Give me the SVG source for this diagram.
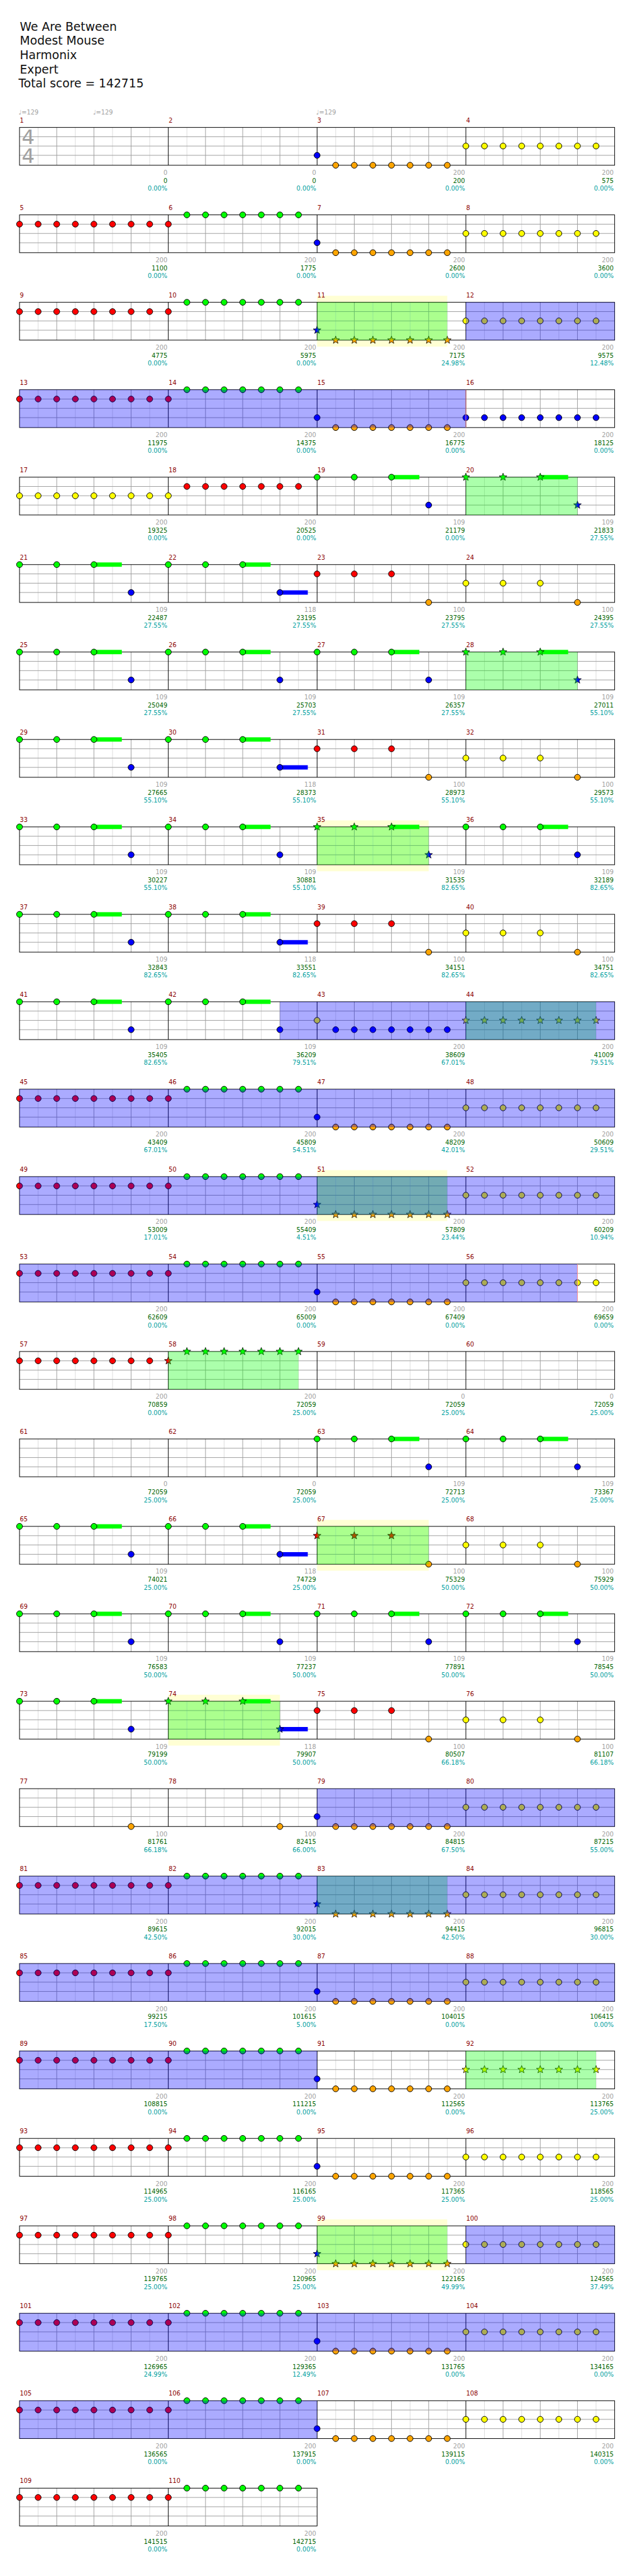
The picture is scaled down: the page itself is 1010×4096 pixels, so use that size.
<svg xmlns="http://www.w3.org/2000/svg" width="1010" height="4096" viewBox="0 0 1010 4096">
<style>
text{font-family:"DejaVu Sans","Liberation Sans",sans-serif}
.title{font-size:19px;fill:#111}
.mn{font-size:10px;fill:#8b0000}
.s1{font-size:10px;fill:#a0a0a0;text-anchor:end}
.s2{font-size:10px;fill:#006400;text-anchor:end}
.s3{font-size:10px;fill:#00a0a0;text-anchor:end}
.tempo{font-size:10px;fill:#a0a0a0}
.ts{font-size:33px;fill:#a0a0a0}
.g{fill:#00ff00}.r{fill:#ff0000}.y{fill:#ffff00}.b{fill:#0000ff}.o{fill:#ffa500}
.ovg{fill:#00ff00;fill-opacity:.33}
.ovb{fill:#0000ff;fill-opacity:.33}
.hl{fill:#ffffd4}
.end{stroke:#ff9090;stroke-width:1}
</style>
<defs>
<circle id="n" r="4.8" stroke="#000" stroke-width="1"/>
<polygon id="s" points="0,-6.5 1.59,-2.18 6.18,-2.01 2.57,0.83 3.82,5.26 0,2.7 -3.82,5.26 -2.57,0.83 -6.18,-2.01 -1.59,-2.18" stroke="#000" stroke-width="0.8"/>
<g id="grid4" fill="none">
<path stroke="#dcdcdc" d="M61.5 0V61M121.5 0V61M181.5 0V61M241.5 0V61M301.5 0V61M361.5 0V61M421.5 0V61M481.5 0V61M541.5 0V61M601.5 0V61M661.5 0V61M721.5 0V61M781.5 0V61M841.5 0V61M901.5 0V61M961.5 0V61"/>
<path stroke="#a0a0a0" d="M91.5 0V61M151.5 0V61M211.5 0V61M331.5 0V61M391.5 0V61M451.5 0V61M571.5 0V61M631.5 0V61M691.5 0V61M811.5 0V61M871.5 0V61M931.5 0V61M31.5 15H991.5M31.5 30H991.5M31.5 45H991.5"/>
<path stroke="#000" d="M271.5 0V61M511.5 0V61M751.5 0V61"/>
<rect x="31.5" y="0" width="960" height="61" stroke="#000"/>
</g>
<g id="grid2" fill="none">
<path stroke="#dcdcdc" d="M61.5 0V61M121.5 0V61M181.5 0V61M241.5 0V61M301.5 0V61M361.5 0V61M421.5 0V61M481.5 0V61"/>
<path stroke="#a0a0a0" d="M91.5 0V61M151.5 0V61M211.5 0V61M331.5 0V61M391.5 0V61M451.5 0V61M31.5 15H511.5M31.5 30H511.5M31.5 45H511.5"/>
<path stroke="#000" d="M271.5 0V61"/>
<rect x="31.5" y="0" width="480" height="61" stroke="#000"/>
</g>
<g id="mRR"><use href="#n" class="r" x="0" y="15"/><use href="#n" class="r" x="30" y="15"/><use href="#n" class="r" x="60" y="15"/><use href="#n" class="r" x="90" y="15"/><use href="#n" class="r" x="120" y="15"/><use href="#n" class="r" x="150" y="15"/><use href="#n" class="r" x="180" y="15"/><use href="#n" class="r" x="210" y="15"/></g>
<g id="mRG"><use href="#n" class="r" x="0" y="15"/><use href="#n" class="g" x="30" y="0"/><use href="#n" class="g" x="60" y="0"/><use href="#n" class="g" x="90" y="0"/><use href="#n" class="g" x="120" y="0"/><use href="#n" class="g" x="150" y="0"/><use href="#n" class="g" x="180" y="0"/><use href="#n" class="g" x="210" y="0"/></g>
<g id="mBO"><use href="#n" class="b" x="0" y="45"/><use href="#n" class="o" x="30" y="61"/><use href="#n" class="o" x="60" y="61"/><use href="#n" class="o" x="90" y="61"/><use href="#n" class="o" x="120" y="61"/><use href="#n" class="o" x="150" y="61"/><use href="#n" class="o" x="180" y="61"/><use href="#n" class="o" x="210" y="61"/></g>
<g id="mYY"><use href="#n" class="y" x="0" y="30"/><use href="#n" class="y" x="30" y="30"/><use href="#n" class="y" x="60" y="30"/><use href="#n" class="y" x="90" y="30"/><use href="#n" class="y" x="120" y="30"/><use href="#n" class="y" x="150" y="30"/><use href="#n" class="y" x="180" y="30"/><use href="#n" class="y" x="210" y="30"/></g>
<g id="mBB"><use href="#n" class="b" x="0" y="45"/><use href="#n" class="b" x="30" y="45"/><use href="#n" class="b" x="60" y="45"/><use href="#n" class="b" x="90" y="45"/><use href="#n" class="b" x="120" y="45"/><use href="#n" class="b" x="150" y="45"/><use href="#n" class="b" x="180" y="45"/><use href="#n" class="b" x="210" y="45"/></g>
<g id="mYR"><use href="#n" class="y" x="0" y="30"/><use href="#n" class="r" x="30" y="15"/><use href="#n" class="r" x="60" y="15"/><use href="#n" class="r" x="90" y="15"/><use href="#n" class="r" x="120" y="15"/><use href="#n" class="r" x="150" y="15"/><use href="#n" class="r" x="180" y="15"/><use href="#n" class="r" x="210" y="15"/></g>
<g id="mYB"><use href="#n" class="y" x="0" y="30"/><use href="#n" class="b" x="30" y="45"/><use href="#n" class="b" x="60" y="45"/><use href="#n" class="b" x="90" y="45"/><use href="#n" class="b" x="120" y="45"/><use href="#n" class="b" x="150" y="45"/><use href="#n" class="b" x="180" y="45"/><use href="#n" class="b" x="210" y="45"/></g>
<g id="mGP"><rect class="g" x="120" y="-3.5" width="45" height="7"/><use href="#n" class="g" x="0" y="0"/><use href="#n" class="g" x="60" y="0"/><use href="#n" class="g" x="120" y="0"/><use href="#n" class="b" x="180" y="45"/></g>
<g id="mGPb"><rect class="g" x="120" y="-3.5" width="45" height="7"/><rect class="b" x="180" y="41.5" width="45" height="7"/><use href="#n" class="g" x="0" y="0"/><use href="#n" class="g" x="60" y="0"/><use href="#n" class="g" x="120" y="0"/><use href="#n" class="b" x="180" y="45"/></g>
<g id="mR3"><use href="#n" class="r" x="0" y="15"/><use href="#n" class="r" x="60" y="15"/><use href="#n" class="r" x="120" y="15"/><use href="#n" class="o" x="180" y="61"/></g>
<g id="mY3"><use href="#n" class="y" x="0" y="30"/><use href="#n" class="y" x="60" y="30"/><use href="#n" class="y" x="120" y="30"/><use href="#n" class="o" x="180" y="61"/></g>
<g id="sBO"><use href="#s" class="b" x="0" y="45"/><use href="#s" class="o" x="30" y="61"/><use href="#s" class="o" x="60" y="61"/><use href="#s" class="o" x="90" y="61"/><use href="#s" class="o" x="120" y="61"/><use href="#s" class="o" x="150" y="61"/><use href="#s" class="o" x="180" y="61"/><use href="#s" class="o" x="210" y="61"/></g>
<g id="sGP"><rect class="g" x="120" y="-3.5" width="45" height="7"/><use href="#s" class="g" x="0" y="0"/><use href="#s" class="g" x="60" y="0"/><use href="#s" class="g" x="120" y="0"/><use href="#s" class="b" x="180" y="45"/></g>
<g id="sGPb"><rect class="g" x="120" y="-3.5" width="45" height="7"/><rect class="b" x="180" y="41.5" width="45" height="7"/><use href="#s" class="g" x="0" y="0"/><use href="#s" class="g" x="60" y="0"/><use href="#s" class="g" x="120" y="0"/><use href="#s" class="b" x="180" y="45"/></g>
<g id="sYY"><use href="#s" class="y" x="0" y="30"/><use href="#s" class="y" x="30" y="30"/><use href="#s" class="y" x="60" y="30"/><use href="#s" class="y" x="90" y="30"/><use href="#s" class="y" x="120" y="30"/><use href="#s" class="y" x="150" y="30"/><use href="#s" class="y" x="180" y="30"/><use href="#s" class="y" x="210" y="30"/></g>
<g id="sRG"><use href="#s" class="r" x="0" y="15"/><use href="#s" class="g" x="30" y="0"/><use href="#s" class="g" x="60" y="0"/><use href="#s" class="g" x="90" y="0"/><use href="#s" class="g" x="120" y="0"/><use href="#s" class="g" x="150" y="0"/><use href="#s" class="g" x="180" y="0"/><use href="#s" class="g" x="210" y="0"/></g>
<g id="sR3"><use href="#s" class="r" x="0" y="15"/><use href="#s" class="r" x="60" y="15"/><use href="#s" class="r" x="120" y="15"/><use href="#n" class="o" x="180" y="61"/></g>
</defs>
<g transform="scale(0.986)">
<g id="header">
<text class="title" x="32" y="49.3">We Are Between</text>
<text class="title" x="32" y="72.3">Modest Mouse</text>
<text class="title" x="32" y="95.3">Harmonix</text>
<text class="title" x="32" y="118.3">Expert</text>
<text class="title" x="30" y="141.3">Total score = 142715</text>
</g>
<g id="row1" transform="translate(0,205.5)">
<use href="#grid4"/>
<text class="ts"><tspan x="35" y="27">4</tspan><tspan x="35" y="57">4</tspan></text>
<text class="tempo" x="30" y="-20.5">♩=129</text><text class="tempo" x="150" y="-20.5">♩=129</text><text class="tempo" x="510" y="-20.5">♩=129</text>
<use href="#mBO" x="511.5"/><use href="#mYY" x="751.5"/>
<text class="mn" x="32" y="-8">1</text><text class="mn" x="272" y="-8">2</text><text class="mn" x="512" y="-8">3</text><text class="mn" x="752" y="-8">4</text>
<text class="s1" x="270" y="76.5">0</text><text class="s2" x="270" y="89.5">0</text><text class="s3" x="270" y="102">0.00%</text>
<text class="s1" x="510" y="76.5">0</text><text class="s2" x="510" y="89.5">0</text><text class="s3" x="510" y="102">0.00%</text>
<text class="s1" x="750" y="76.5">200</text><text class="s2" x="750" y="89.5">200</text><text class="s3" x="750" y="102">0.00%</text>
<text class="s1" x="990" y="76.5">200</text><text class="s2" x="990" y="89.5">575</text><text class="s3" x="990" y="102">0.00%</text>
</g>
<g id="row2" transform="translate(0,346.5)">
<use href="#grid4"/>
<use href="#mRR" x="31.5"/><use href="#mRG" x="271.5"/><use href="#mBO" x="511.5"/><use href="#mYY" x="751.5"/>
<text class="mn" x="32" y="-8">5</text><text class="mn" x="272" y="-8">6</text><text class="mn" x="512" y="-8">7</text><text class="mn" x="752" y="-8">8</text>
<text class="s1" x="270" y="76.5">200</text><text class="s2" x="270" y="89.5">1100</text><text class="s3" x="270" y="102">0.00%</text>
<text class="s1" x="510" y="76.5">200</text><text class="s2" x="510" y="89.5">1775</text><text class="s3" x="510" y="102">0.00%</text>
<text class="s1" x="750" y="76.5">200</text><text class="s2" x="750" y="89.5">2600</text><text class="s3" x="750" y="102">0.00%</text>
<text class="s1" x="990" y="76.5">200</text><text class="s2" x="990" y="89.5">3600</text><text class="s3" x="990" y="102">0.00%</text>
</g>
<g id="row3" transform="translate(0,487.5)">
<rect class="hl" x="511.5" y="-10.5" width="210" height="82"/>
<use href="#grid4"/>
<use href="#mRR" x="31.5"/><use href="#mRG" x="271.5"/><use href="#sBO" x="511.5"/><use href="#mYY" x="751.5"/>
<rect class="ovg" x="511.5" y="0" width="210" height="61"/>
<rect class="ovb" x="751.5" y="0" width="240" height="61"/>
<text class="mn" x="32" y="-8">9</text><text class="mn" x="272" y="-8">10</text><text class="mn" x="512" y="-8">11</text><text class="mn" x="752" y="-8">12</text>
<text class="s1" x="270" y="76.5">200</text><text class="s2" x="270" y="89.5">4775</text><text class="s3" x="270" y="102">0.00%</text>
<text class="s1" x="510" y="76.5">200</text><text class="s2" x="510" y="89.5">5975</text><text class="s3" x="510" y="102">0.00%</text>
<text class="s1" x="750" y="76.5">200</text><text class="s2" x="750" y="89.5">7175</text><text class="s3" x="750" y="102">24.98%</text>
<text class="s1" x="990" y="76.5">200</text><text class="s2" x="990" y="89.5">9575</text><text class="s3" x="990" y="102">12.48%</text>
</g>
<g id="row4" transform="translate(0,628.5)">
<use href="#grid4"/>
<use href="#mRR" x="31.5"/><use href="#mRG" x="271.5"/><use href="#mBO" x="511.5"/><use href="#mBB" x="751.5"/>
<rect class="ovb" x="31.5" y="0" width="720" height="61"/>
<line class="end" x1="751.5" y1="0" x2="751.5" y2="61"/>
<text class="mn" x="32" y="-8">13</text><text class="mn" x="272" y="-8">14</text><text class="mn" x="512" y="-8">15</text><text class="mn" x="752" y="-8">16</text>
<text class="s1" x="270" y="76.5">200</text><text class="s2" x="270" y="89.5">11975</text><text class="s3" x="270" y="102">0.00%</text>
<text class="s1" x="510" y="76.5">200</text><text class="s2" x="510" y="89.5">14375</text><text class="s3" x="510" y="102">0.00%</text>
<text class="s1" x="750" y="76.5">200</text><text class="s2" x="750" y="89.5">16775</text><text class="s3" x="750" y="102">0.00%</text>
<text class="s1" x="990" y="76.5">200</text><text class="s2" x="990" y="89.5">18125</text><text class="s3" x="990" y="102">0.00%</text>
</g>
<g id="row5" transform="translate(0,769.5)">
<use href="#grid4"/>
<use href="#mYY" x="31.5"/><use href="#mYR" x="271.5"/><use href="#mGP" x="511.5"/><use href="#sGP" x="751.5"/>
<rect class="ovg" x="751.5" y="0" width="180" height="61"/>
<text class="mn" x="32" y="-8">17</text><text class="mn" x="272" y="-8">18</text><text class="mn" x="512" y="-8">19</text><text class="mn" x="752" y="-8">20</text>
<text class="s1" x="270" y="76.5">200</text><text class="s2" x="270" y="89.5">19325</text><text class="s3" x="270" y="102">0.00%</text>
<text class="s1" x="510" y="76.5">200</text><text class="s2" x="510" y="89.5">20525</text><text class="s3" x="510" y="102">0.00%</text>
<text class="s1" x="750" y="76.5">109</text><text class="s2" x="750" y="89.5">21179</text><text class="s3" x="750" y="102">0.00%</text>
<text class="s1" x="990" y="76.5">109</text><text class="s2" x="990" y="89.5">21833</text><text class="s3" x="990" y="102">27.55%</text>
</g>
<g id="row6" transform="translate(0,910.5)">
<use href="#grid4"/>
<use href="#mGP" x="31.5"/><use href="#mGPb" x="271.5"/><use href="#mR3" x="511.5"/><use href="#mY3" x="751.5"/>
<text class="mn" x="32" y="-8">21</text><text class="mn" x="272" y="-8">22</text><text class="mn" x="512" y="-8">23</text><text class="mn" x="752" y="-8">24</text>
<text class="s1" x="270" y="76.5">109</text><text class="s2" x="270" y="89.5">22487</text><text class="s3" x="270" y="102">27.55%</text>
<text class="s1" x="510" y="76.5">118</text><text class="s2" x="510" y="89.5">23195</text><text class="s3" x="510" y="102">27.55%</text>
<text class="s1" x="750" y="76.5">100</text><text class="s2" x="750" y="89.5">23795</text><text class="s3" x="750" y="102">27.55%</text>
<text class="s1" x="990" y="76.5">100</text><text class="s2" x="990" y="89.5">24395</text><text class="s3" x="990" y="102">27.55%</text>
</g>
<g id="row7" transform="translate(0,1051.5)">
<use href="#grid4"/>
<use href="#mGP" x="31.5"/><use href="#mGP" x="271.5"/><use href="#mGP" x="511.5"/><use href="#sGP" x="751.5"/>
<rect class="ovg" x="751.5" y="0" width="180" height="61"/>
<text class="mn" x="32" y="-8">25</text><text class="mn" x="272" y="-8">26</text><text class="mn" x="512" y="-8">27</text><text class="mn" x="752" y="-8">28</text>
<text class="s1" x="270" y="76.5">109</text><text class="s2" x="270" y="89.5">25049</text><text class="s3" x="270" y="102">27.55%</text>
<text class="s1" x="510" y="76.5">109</text><text class="s2" x="510" y="89.5">25703</text><text class="s3" x="510" y="102">27.55%</text>
<text class="s1" x="750" y="76.5">109</text><text class="s2" x="750" y="89.5">26357</text><text class="s3" x="750" y="102">27.55%</text>
<text class="s1" x="990" y="76.5">109</text><text class="s2" x="990" y="89.5">27011</text><text class="s3" x="990" y="102">55.10%</text>
</g>
<g id="row8" transform="translate(0,1192.5)">
<use href="#grid4"/>
<use href="#mGP" x="31.5"/><use href="#mGPb" x="271.5"/><use href="#mR3" x="511.5"/><use href="#mY3" x="751.5"/>
<text class="mn" x="32" y="-8">29</text><text class="mn" x="272" y="-8">30</text><text class="mn" x="512" y="-8">31</text><text class="mn" x="752" y="-8">32</text>
<text class="s1" x="270" y="76.5">109</text><text class="s2" x="270" y="89.5">27665</text><text class="s3" x="270" y="102">55.10%</text>
<text class="s1" x="510" y="76.5">118</text><text class="s2" x="510" y="89.5">28373</text><text class="s3" x="510" y="102">55.10%</text>
<text class="s1" x="750" y="76.5">100</text><text class="s2" x="750" y="89.5">28973</text><text class="s3" x="750" y="102">55.10%</text>
<text class="s1" x="990" y="76.5">100</text><text class="s2" x="990" y="89.5">29573</text><text class="s3" x="990" y="102">55.10%</text>
</g>
<g id="row9" transform="translate(0,1333.5)">
<rect class="hl" x="511.5" y="-10.5" width="180" height="82"/>
<use href="#grid4"/>
<use href="#mGP" x="31.5"/><use href="#mGP" x="271.5"/><use href="#sGP" x="511.5"/><use href="#mGP" x="751.5"/>
<rect class="ovg" x="511.5" y="0" width="180" height="61"/>
<text class="mn" x="32" y="-8">33</text><text class="mn" x="272" y="-8">34</text><text class="mn" x="512" y="-8">35</text><text class="mn" x="752" y="-8">36</text>
<text class="s1" x="270" y="76.5">109</text><text class="s2" x="270" y="89.5">30227</text><text class="s3" x="270" y="102">55.10%</text>
<text class="s1" x="510" y="76.5">109</text><text class="s2" x="510" y="89.5">30881</text><text class="s3" x="510" y="102">55.10%</text>
<text class="s1" x="750" y="76.5">109</text><text class="s2" x="750" y="89.5">31535</text><text class="s3" x="750" y="102">82.65%</text>
<text class="s1" x="990" y="76.5">109</text><text class="s2" x="990" y="89.5">32189</text><text class="s3" x="990" y="102">82.65%</text>
</g>
<g id="row10" transform="translate(0,1474.5)">
<use href="#grid4"/>
<use href="#mGP" x="31.5"/><use href="#mGPb" x="271.5"/><use href="#mR3" x="511.5"/><use href="#mY3" x="751.5"/>
<text class="mn" x="32" y="-8">37</text><text class="mn" x="272" y="-8">38</text><text class="mn" x="512" y="-8">39</text><text class="mn" x="752" y="-8">40</text>
<text class="s1" x="270" y="76.5">109</text><text class="s2" x="270" y="89.5">32843</text><text class="s3" x="270" y="102">82.65%</text>
<text class="s1" x="510" y="76.5">118</text><text class="s2" x="510" y="89.5">33551</text><text class="s3" x="510" y="102">82.65%</text>
<text class="s1" x="750" y="76.5">100</text><text class="s2" x="750" y="89.5">34151</text><text class="s3" x="750" y="102">82.65%</text>
<text class="s1" x="990" y="76.5">100</text><text class="s2" x="990" y="89.5">34751</text><text class="s3" x="990" y="102">82.65%</text>
</g>
<g id="row11" transform="translate(0,1615.5)">
<use href="#grid4"/>
<use href="#mGP" x="31.5"/><use href="#mGP" x="271.5"/><use href="#mYB" x="511.5"/><use href="#sYY" x="751.5"/>
<rect class="ovg" x="751.5" y="0" width="210" height="61"/>
<rect class="ovb" x="451.5" y="0" width="540" height="61"/>
<text class="mn" x="32" y="-8">41</text><text class="mn" x="272" y="-8">42</text><text class="mn" x="512" y="-8">43</text><text class="mn" x="752" y="-8">44</text>
<text class="s1" x="270" y="76.5">109</text><text class="s2" x="270" y="89.5">35405</text><text class="s3" x="270" y="102">82.65%</text>
<text class="s1" x="510" y="76.5">109</text><text class="s2" x="510" y="89.5">36209</text><text class="s3" x="510" y="102">79.51%</text>
<text class="s1" x="750" y="76.5">200</text><text class="s2" x="750" y="89.5">38609</text><text class="s3" x="750" y="102">67.01%</text>
<text class="s1" x="990" y="76.5">200</text><text class="s2" x="990" y="89.5">41009</text><text class="s3" x="990" y="102">79.51%</text>
</g>
<g id="row12" transform="translate(0,1756.5)">
<use href="#grid4"/>
<use href="#mRR" x="31.5"/><use href="#mRG" x="271.5"/><use href="#mBO" x="511.5"/><use href="#mYY" x="751.5"/>
<rect class="ovb" x="31.5" y="0" width="960" height="61"/>
<text class="mn" x="32" y="-8">45</text><text class="mn" x="272" y="-8">46</text><text class="mn" x="512" y="-8">47</text><text class="mn" x="752" y="-8">48</text>
<text class="s1" x="270" y="76.5">200</text><text class="s2" x="270" y="89.5">43409</text><text class="s3" x="270" y="102">67.01%</text>
<text class="s1" x="510" y="76.5">200</text><text class="s2" x="510" y="89.5">45809</text><text class="s3" x="510" y="102">54.51%</text>
<text class="s1" x="750" y="76.5">200</text><text class="s2" x="750" y="89.5">48209</text><text class="s3" x="750" y="102">42.01%</text>
<text class="s1" x="990" y="76.5">200</text><text class="s2" x="990" y="89.5">50609</text><text class="s3" x="990" y="102">29.51%</text>
</g>
<g id="row13" transform="translate(0,1897.5)">
<rect class="hl" x="511.5" y="-10.5" width="210" height="82"/>
<use href="#grid4"/>
<use href="#mRR" x="31.5"/><use href="#mRG" x="271.5"/><use href="#sBO" x="511.5"/><use href="#mYY" x="751.5"/>
<rect class="ovg" x="511.5" y="0" width="210" height="61"/>
<rect class="ovb" x="31.5" y="0" width="960" height="61"/>
<text class="mn" x="32" y="-8">49</text><text class="mn" x="272" y="-8">50</text><text class="mn" x="512" y="-8">51</text><text class="mn" x="752" y="-8">52</text>
<text class="s1" x="270" y="76.5">200</text><text class="s2" x="270" y="89.5">53009</text><text class="s3" x="270" y="102">17.01%</text>
<text class="s1" x="510" y="76.5">200</text><text class="s2" x="510" y="89.5">55409</text><text class="s3" x="510" y="102">4.51%</text>
<text class="s1" x="750" y="76.5">200</text><text class="s2" x="750" y="89.5">57809</text><text class="s3" x="750" y="102">23.44%</text>
<text class="s1" x="990" y="76.5">200</text><text class="s2" x="990" y="89.5">60209</text><text class="s3" x="990" y="102">10.94%</text>
</g>
<g id="row14" transform="translate(0,2038.5)">
<use href="#grid4"/>
<use href="#mRR" x="31.5"/><use href="#mRG" x="271.5"/><use href="#mBO" x="511.5"/><use href="#mYY" x="751.5"/>
<rect class="ovb" x="31.5" y="0" width="900" height="61"/>
<line class="end" x1="931.5" y1="0" x2="931.5" y2="61"/>
<text class="mn" x="32" y="-8">53</text><text class="mn" x="272" y="-8">54</text><text class="mn" x="512" y="-8">55</text><text class="mn" x="752" y="-8">56</text>
<text class="s1" x="270" y="76.5">200</text><text class="s2" x="270" y="89.5">62609</text><text class="s3" x="270" y="102">0.00%</text>
<text class="s1" x="510" y="76.5">200</text><text class="s2" x="510" y="89.5">65009</text><text class="s3" x="510" y="102">0.00%</text>
<text class="s1" x="750" y="76.5">200</text><text class="s2" x="750" y="89.5">67409</text><text class="s3" x="750" y="102">0.00%</text>
<text class="s1" x="990" y="76.5">200</text><text class="s2" x="990" y="89.5">69659</text><text class="s3" x="990" y="102">0.00%</text>
</g>
<g id="row15" transform="translate(0,2179.5)">
<use href="#grid4"/>
<use href="#mRR" x="31.5"/><use href="#sRG" x="271.5"/>
<rect class="ovg" x="271.5" y="0" width="210" height="61"/>
<text class="mn" x="32" y="-8">57</text><text class="mn" x="272" y="-8">58</text><text class="mn" x="512" y="-8">59</text><text class="mn" x="752" y="-8">60</text>
<text class="s1" x="270" y="76.5">200</text><text class="s2" x="270" y="89.5">70859</text><text class="s3" x="270" y="102">0.00%</text>
<text class="s1" x="510" y="76.5">200</text><text class="s2" x="510" y="89.5">72059</text><text class="s3" x="510" y="102">25.00%</text>
<text class="s1" x="750" y="76.5">0</text><text class="s2" x="750" y="89.5">72059</text><text class="s3" x="750" y="102">25.00%</text>
<text class="s1" x="990" y="76.5">0</text><text class="s2" x="990" y="89.5">72059</text><text class="s3" x="990" y="102">25.00%</text>
</g>
<g id="row16" transform="translate(0,2320.5)">
<use href="#grid4"/>
<use href="#mGP" x="511.5"/><use href="#mGP" x="751.5"/>
<text class="mn" x="32" y="-8">61</text><text class="mn" x="272" y="-8">62</text><text class="mn" x="512" y="-8">63</text><text class="mn" x="752" y="-8">64</text>
<text class="s1" x="270" y="76.5">0</text><text class="s2" x="270" y="89.5">72059</text><text class="s3" x="270" y="102">25.00%</text>
<text class="s1" x="510" y="76.5">0</text><text class="s2" x="510" y="89.5">72059</text><text class="s3" x="510" y="102">25.00%</text>
<text class="s1" x="750" y="76.5">109</text><text class="s2" x="750" y="89.5">72713</text><text class="s3" x="750" y="102">25.00%</text>
<text class="s1" x="990" y="76.5">109</text><text class="s2" x="990" y="89.5">73367</text><text class="s3" x="990" y="102">25.00%</text>
</g>
<g id="row17" transform="translate(0,2461.5)">
<rect class="hl" x="511.5" y="-10.5" width="180" height="82"/>
<use href="#grid4"/>
<use href="#mGP" x="31.5"/><use href="#mGPb" x="271.5"/><use href="#sR3" x="511.5"/><use href="#mY3" x="751.5"/>
<rect class="ovg" x="511.5" y="0" width="180" height="61"/>
<text class="mn" x="32" y="-8">65</text><text class="mn" x="272" y="-8">66</text><text class="mn" x="512" y="-8">67</text><text class="mn" x="752" y="-8">68</text>
<text class="s1" x="270" y="76.5">109</text><text class="s2" x="270" y="89.5">74021</text><text class="s3" x="270" y="102">25.00%</text>
<text class="s1" x="510" y="76.5">118</text><text class="s2" x="510" y="89.5">74729</text><text class="s3" x="510" y="102">25.00%</text>
<text class="s1" x="750" y="76.5">100</text><text class="s2" x="750" y="89.5">75329</text><text class="s3" x="750" y="102">50.00%</text>
<text class="s1" x="990" y="76.5">100</text><text class="s2" x="990" y="89.5">75929</text><text class="s3" x="990" y="102">50.00%</text>
</g>
<g id="row18" transform="translate(0,2602.5)">
<use href="#grid4"/>
<use href="#mGP" x="31.5"/><use href="#mGP" x="271.5"/><use href="#mGP" x="511.5"/><use href="#mGP" x="751.5"/>
<text class="mn" x="32" y="-8">69</text><text class="mn" x="272" y="-8">70</text><text class="mn" x="512" y="-8">71</text><text class="mn" x="752" y="-8">72</text>
<text class="s1" x="270" y="76.5">109</text><text class="s2" x="270" y="89.5">76583</text><text class="s3" x="270" y="102">50.00%</text>
<text class="s1" x="510" y="76.5">109</text><text class="s2" x="510" y="89.5">77237</text><text class="s3" x="510" y="102">50.00%</text>
<text class="s1" x="750" y="76.5">109</text><text class="s2" x="750" y="89.5">77891</text><text class="s3" x="750" y="102">50.00%</text>
<text class="s1" x="990" y="76.5">109</text><text class="s2" x="990" y="89.5">78545</text><text class="s3" x="990" y="102">50.00%</text>
</g>
<g id="row19" transform="translate(0,2743.5)">
<rect class="hl" x="271.5" y="-10.5" width="180" height="82"/>
<use href="#grid4"/>
<use href="#mGP" x="31.5"/><use href="#sGPb" x="271.5"/><use href="#mR3" x="511.5"/><use href="#mY3" x="751.5"/>
<rect class="ovg" x="271.5" y="0" width="180" height="61"/>
<text class="mn" x="32" y="-8">73</text><text class="mn" x="272" y="-8">74</text><text class="mn" x="512" y="-8">75</text><text class="mn" x="752" y="-8">76</text>
<text class="s1" x="270" y="76.5">109</text><text class="s2" x="270" y="89.5">79199</text><text class="s3" x="270" y="102">50.00%</text>
<text class="s1" x="510" y="76.5">118</text><text class="s2" x="510" y="89.5">79907</text><text class="s3" x="510" y="102">50.00%</text>
<text class="s1" x="750" y="76.5">100</text><text class="s2" x="750" y="89.5">80507</text><text class="s3" x="750" y="102">66.18%</text>
<text class="s1" x="990" y="76.5">100</text><text class="s2" x="990" y="89.5">81107</text><text class="s3" x="990" y="102">66.18%</text>
</g>
<g id="row20" transform="translate(0,2884.5)">
<use href="#grid4"/>
<use href="#n" class="o" x="211.5" y="61"/><use href="#n" class="o" x="451.5" y="61"/>
<use href="#mBO" x="511.5"/><use href="#mYY" x="751.5"/>
<rect class="ovb" x="511.5" y="0" width="480" height="61"/>
<text class="mn" x="32" y="-8">77</text><text class="mn" x="272" y="-8">78</text><text class="mn" x="512" y="-8">79</text><text class="mn" x="752" y="-8">80</text>
<text class="s1" x="270" y="76.5">100</text><text class="s2" x="270" y="89.5">81761</text><text class="s3" x="270" y="102">66.18%</text>
<text class="s1" x="510" y="76.5">100</text><text class="s2" x="510" y="89.5">82415</text><text class="s3" x="510" y="102">66.00%</text>
<text class="s1" x="750" y="76.5">200</text><text class="s2" x="750" y="89.5">84815</text><text class="s3" x="750" y="102">67.50%</text>
<text class="s1" x="990" y="76.5">200</text><text class="s2" x="990" y="89.5">87215</text><text class="s3" x="990" y="102">55.00%</text>
</g>
<g id="row21" transform="translate(0,3025.5)">
<use href="#grid4"/>
<use href="#mRR" x="31.5"/><use href="#mRG" x="271.5"/><use href="#sBO" x="511.5"/><use href="#mYY" x="751.5"/>
<rect class="ovg" x="511.5" y="0" width="210" height="61"/>
<rect class="ovb" x="31.5" y="0" width="960" height="61"/>
<text class="mn" x="32" y="-8">81</text><text class="mn" x="272" y="-8">82</text><text class="mn" x="512" y="-8">83</text><text class="mn" x="752" y="-8">84</text>
<text class="s1" x="270" y="76.5">200</text><text class="s2" x="270" y="89.5">89615</text><text class="s3" x="270" y="102">42.50%</text>
<text class="s1" x="510" y="76.5">200</text><text class="s2" x="510" y="89.5">92015</text><text class="s3" x="510" y="102">30.00%</text>
<text class="s1" x="750" y="76.5">200</text><text class="s2" x="750" y="89.5">94415</text><text class="s3" x="750" y="102">42.50%</text>
<text class="s1" x="990" y="76.5">200</text><text class="s2" x="990" y="89.5">96815</text><text class="s3" x="990" y="102">30.00%</text>
</g>
<g id="row22" transform="translate(0,3166.5)">
<use href="#grid4"/>
<use href="#mRR" x="31.5"/><use href="#mRG" x="271.5"/><use href="#mBO" x="511.5"/><use href="#mYY" x="751.5"/>
<rect class="ovb" x="31.5" y="0" width="960" height="61"/>
<text class="mn" x="32" y="-8">85</text><text class="mn" x="272" y="-8">86</text><text class="mn" x="512" y="-8">87</text><text class="mn" x="752" y="-8">88</text>
<text class="s1" x="270" y="76.5">200</text><text class="s2" x="270" y="89.5">99215</text><text class="s3" x="270" y="102">17.50%</text>
<text class="s1" x="510" y="76.5">200</text><text class="s2" x="510" y="89.5">101615</text><text class="s3" x="510" y="102">5.00%</text>
<text class="s1" x="750" y="76.5">200</text><text class="s2" x="750" y="89.5">104015</text><text class="s3" x="750" y="102">0.00%</text>
<text class="s1" x="990" y="76.5">200</text><text class="s2" x="990" y="89.5">106415</text><text class="s3" x="990" y="102">0.00%</text>
</g>
<g id="row23" transform="translate(0,3307.5)">
<use href="#grid4"/>
<use href="#mRR" x="31.5"/><use href="#mRG" x="271.5"/><use href="#mBO" x="511.5"/><use href="#sYY" x="751.5"/>
<rect class="ovg" x="751.5" y="0" width="210" height="61"/>
<rect class="ovb" x="31.5" y="0" width="480" height="61"/>
<text class="mn" x="32" y="-8">89</text><text class="mn" x="272" y="-8">90</text><text class="mn" x="512" y="-8">91</text><text class="mn" x="752" y="-8">92</text>
<text class="s1" x="270" y="76.5">200</text><text class="s2" x="270" y="89.5">108815</text><text class="s3" x="270" y="102">0.00%</text>
<text class="s1" x="510" y="76.5">200</text><text class="s2" x="510" y="89.5">111215</text><text class="s3" x="510" y="102">0.00%</text>
<text class="s1" x="750" y="76.5">200</text><text class="s2" x="750" y="89.5">112565</text><text class="s3" x="750" y="102">0.00%</text>
<text class="s1" x="990" y="76.5">200</text><text class="s2" x="990" y="89.5">113765</text><text class="s3" x="990" y="102">25.00%</text>
</g>
<g id="row24" transform="translate(0,3448.5)">
<use href="#grid4"/>
<use href="#mRR" x="31.5"/><use href="#mRG" x="271.5"/><use href="#mBO" x="511.5"/><use href="#mYY" x="751.5"/>
<text class="mn" x="32" y="-8">93</text><text class="mn" x="272" y="-8">94</text><text class="mn" x="512" y="-8">95</text><text class="mn" x="752" y="-8">96</text>
<text class="s1" x="270" y="76.5">200</text><text class="s2" x="270" y="89.5">114965</text><text class="s3" x="270" y="102">25.00%</text>
<text class="s1" x="510" y="76.5">200</text><text class="s2" x="510" y="89.5">116165</text><text class="s3" x="510" y="102">25.00%</text>
<text class="s1" x="750" y="76.5">200</text><text class="s2" x="750" y="89.5">117365</text><text class="s3" x="750" y="102">25.00%</text>
<text class="s1" x="990" y="76.5">200</text><text class="s2" x="990" y="89.5">118565</text><text class="s3" x="990" y="102">25.00%</text>
</g>
<g id="row25" transform="translate(0,3589.5)">
<rect class="hl" x="511.5" y="-10.5" width="210" height="82"/>
<use href="#grid4"/>
<use href="#mRR" x="31.5"/><use href="#mRG" x="271.5"/><use href="#sBO" x="511.5"/><use href="#mYY" x="751.5"/>
<rect class="ovg" x="511.5" y="0" width="210" height="61"/>
<rect class="ovb" x="751.5" y="0" width="240" height="61"/>
<text class="mn" x="32" y="-8">97</text><text class="mn" x="272" y="-8">98</text><text class="mn" x="512" y="-8">99</text><text class="mn" x="752" y="-8">100</text>
<text class="s1" x="270" y="76.5">200</text><text class="s2" x="270" y="89.5">119765</text><text class="s3" x="270" y="102">25.00%</text>
<text class="s1" x="510" y="76.5">200</text><text class="s2" x="510" y="89.5">120965</text><text class="s3" x="510" y="102">25.00%</text>
<text class="s1" x="750" y="76.5">200</text><text class="s2" x="750" y="89.5">122165</text><text class="s3" x="750" y="102">49.99%</text>
<text class="s1" x="990" y="76.5">200</text><text class="s2" x="990" y="89.5">124565</text><text class="s3" x="990" y="102">37.49%</text>
</g>
<g id="row26" transform="translate(0,3730.5)">
<use href="#grid4"/>
<use href="#mRR" x="31.5"/><use href="#mRG" x="271.5"/><use href="#mBO" x="511.5"/><use href="#mYY" x="751.5"/>
<rect class="ovb" x="31.5" y="0" width="960" height="61"/>
<text class="mn" x="32" y="-8">101</text><text class="mn" x="272" y="-8">102</text><text class="mn" x="512" y="-8">103</text><text class="mn" x="752" y="-8">104</text>
<text class="s1" x="270" y="76.5">200</text><text class="s2" x="270" y="89.5">126965</text><text class="s3" x="270" y="102">24.99%</text>
<text class="s1" x="510" y="76.5">200</text><text class="s2" x="510" y="89.5">129365</text><text class="s3" x="510" y="102">12.49%</text>
<text class="s1" x="750" y="76.5">200</text><text class="s2" x="750" y="89.5">131765</text><text class="s3" x="750" y="102">0.00%</text>
<text class="s1" x="990" y="76.5">200</text><text class="s2" x="990" y="89.5">134165</text><text class="s3" x="990" y="102">0.00%</text>
</g>
<g id="row27" transform="translate(0,3871.5)">
<use href="#grid4"/>
<use href="#mRR" x="31.5"/><use href="#mRG" x="271.5"/><use href="#mBO" x="511.5"/><use href="#mYY" x="751.5"/>
<rect class="ovb" x="31.5" y="0" width="480" height="61"/>
<text class="mn" x="32" y="-8">105</text><text class="mn" x="272" y="-8">106</text><text class="mn" x="512" y="-8">107</text><text class="mn" x="752" y="-8">108</text>
<text class="s1" x="270" y="76.5">200</text><text class="s2" x="270" y="89.5">136565</text><text class="s3" x="270" y="102">0.00%</text>
<text class="s1" x="510" y="76.5">200</text><text class="s2" x="510" y="89.5">137915</text><text class="s3" x="510" y="102">0.00%</text>
<text class="s1" x="750" y="76.5">200</text><text class="s2" x="750" y="89.5">139115</text><text class="s3" x="750" y="102">0.00%</text>
<text class="s1" x="990" y="76.5">200</text><text class="s2" x="990" y="89.5">140315</text><text class="s3" x="990" y="102">0.00%</text>
</g>
<g id="row28" transform="translate(0,4012.5)">
<use href="#grid2"/>
<use href="#mRR" x="31.5"/><use href="#mRG" x="271.5"/>
<text class="mn" x="32" y="-8">109</text><text class="mn" x="272" y="-8">110</text>
<text class="s1" x="270" y="76.5">200</text><text class="s2" x="270" y="89.5">141515</text><text class="s3" x="270" y="102">0.00%</text>
<text class="s1" x="510" y="76.5">200</text><text class="s2" x="510" y="89.5">142715</text><text class="s3" x="510" y="102">0.00%</text>
</g>
</g>
</svg>
